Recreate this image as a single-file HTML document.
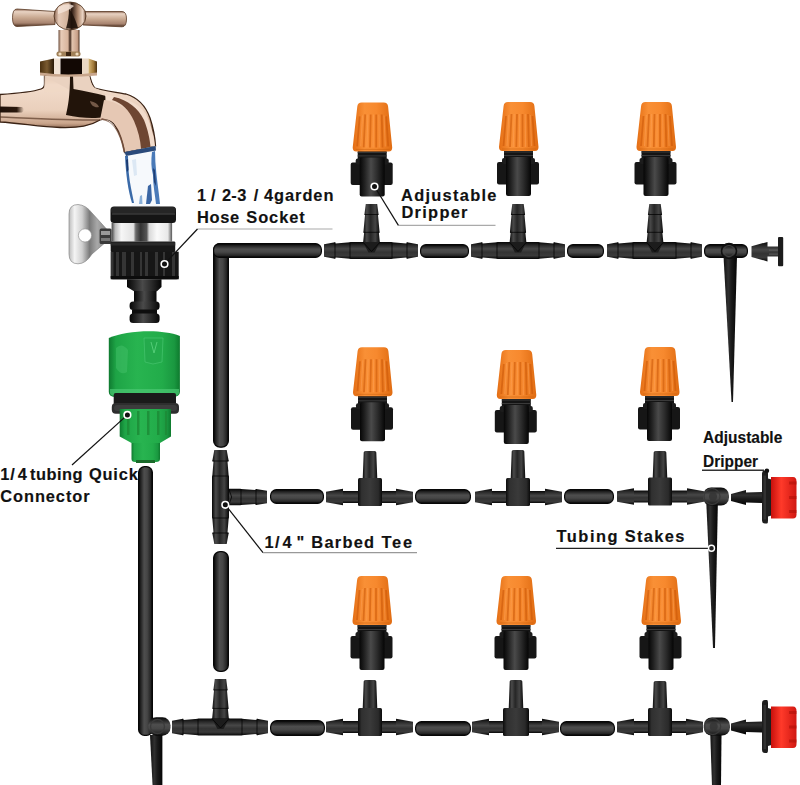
<!DOCTYPE html>
<html><head><meta charset="utf-8"><style>
html,body{margin:0;padding:0;background:#fff;}
body{width:800px;height:785px;overflow:hidden;font-family:"Liberation Sans",sans-serif;}
svg{display:block;}
</style></head><body>
<svg width="800" height="785" viewBox="0 0 800 785">
<defs>
<linearGradient id="tubeH" x1="0" y1="0" x2="0" y2="1">
  <stop offset="0" stop-color="#050505"/><stop offset="0.12" stop-color="#1c1c1c"/><stop offset="0.4" stop-color="#4e4e4e"/><stop offset="0.62" stop-color="#464646"/><stop offset="0.86" stop-color="#262626"/><stop offset="1" stop-color="#050505"/>
</linearGradient>
<linearGradient id="tubeV" x1="0" y1="0" x2="1" y2="0">
  <stop offset="0" stop-color="#050505"/><stop offset="0.12" stop-color="#1c1c1c"/><stop offset="0.4" stop-color="#4e4e4e"/><stop offset="0.62" stop-color="#464646"/><stop offset="0.86" stop-color="#262626"/><stop offset="1" stop-color="#050505"/>
</linearGradient>
<linearGradient id="tubeH2" x1="0" y1="0" x2="0" y2="1">
  <stop offset="0" stop-color="#111"/><stop offset="0.35" stop-color="#303030"/><stop offset="0.6" stop-color="#1a1a1a"/><stop offset="1" stop-color="#050505"/>
</linearGradient>
<linearGradient id="tubeV2" x1="0" y1="0" x2="1" y2="0">
  <stop offset="0" stop-color="#111"/><stop offset="0.35" stop-color="#303030"/><stop offset="0.6" stop-color="#1a1a1a"/><stop offset="1" stop-color="#050505"/>
</linearGradient>
<linearGradient id="tubeH3" x1="0" y1="0" x2="0" y2="1">
  <stop offset="0" stop-color="#060606"/><stop offset="0.2" stop-color="#2a2a2a"/><stop offset="0.4" stop-color="#474747"/><stop offset="0.6" stop-color="#333"/><stop offset="0.8" stop-color="#3a3a3a"/><stop offset="1" stop-color="#060606"/>
</linearGradient>
<linearGradient id="stemG2" x1="0" y1="0" x2="1" y2="0">
  <stop offset="0" stop-color="#060606"/><stop offset="0.22" stop-color="#4a4a4a"/><stop offset="0.45" stop-color="#262626"/><stop offset="0.72" stop-color="#444"/><stop offset="1" stop-color="#060606"/>
</linearGradient>
<linearGradient id="blockG" x1="0" y1="0" x2="1" y2="0">
  <stop offset="0" stop-color="#0c0c0c"/><stop offset="0.15" stop-color="#303030"/><stop offset="0.5" stop-color="#3a3a3a"/><stop offset="0.85" stop-color="#2a2a2a"/><stop offset="1" stop-color="#0a0a0a"/>
</linearGradient>
<linearGradient id="orangeG" x1="0" y1="0" x2="1" y2="0">
  <stop offset="0" stop-color="#e46e14"/><stop offset="0.3" stop-color="#f99036"/><stop offset="0.6" stop-color="#f7892e"/><stop offset="1" stop-color="#e06c12"/>
</linearGradient>
<linearGradient id="bodyG" x1="0" y1="0" x2="1" y2="0">
  <stop offset="0" stop-color="#060606"/><stop offset="0.2" stop-color="#222"/><stop offset="0.45" stop-color="#4a4a4a"/><stop offset="0.7" stop-color="#2c2c2c"/><stop offset="1" stop-color="#050505"/>
</linearGradient>
<linearGradient id="redG" x1="0" y1="0" x2="1" y2="0">
  <stop offset="0" stop-color="#c8100c"/><stop offset="0.4" stop-color="#ff3a2a"/><stop offset="1" stop-color="#d01812"/>
</linearGradient>
<linearGradient id="greenG" x1="0" y1="0" x2="1" y2="0">
  <stop offset="0" stop-color="#1f9a3a"/><stop offset="0.3" stop-color="#3ec85a"/><stop offset="0.7" stop-color="#2fb24c"/><stop offset="1" stop-color="#17802c"/>
</linearGradient>
<linearGradient id="copperH" x1="0" y1="0" x2="0" y2="1">
  <stop offset="0" stop-color="#7a5038"/><stop offset="0.2" stop-color="#e9cbb6"/><stop offset="0.45" stop-color="#c9a28a"/><stop offset="0.6" stop-color="#5a3a28"/><stop offset="0.8" stop-color="#d8b49c"/><stop offset="1" stop-color="#7a5440"/>
</linearGradient>
<linearGradient id="copperV" x1="0" y1="0" x2="1" y2="0">
  <stop offset="0" stop-color="#9a7058"/><stop offset="0.3" stop-color="#f0d6c2"/><stop offset="0.55" stop-color="#5a3a26"/><stop offset="0.8" stop-color="#e0bea6"/><stop offset="1" stop-color="#8a6048"/>
</linearGradient>
<linearGradient id="chromeG" x1="0" y1="0" x2="1" y2="0">
  <stop offset="0" stop-color="#555"/><stop offset="0.25" stop-color="#eee"/><stop offset="0.5" stop-color="#888"/><stop offset="0.75" stop-color="#f4f4f4"/><stop offset="1" stop-color="#666"/>
</linearGradient>
<linearGradient id="silverG" x1="0" y1="0" x2="1" y2="1">
  <stop offset="0" stop-color="#d8d8d8"/><stop offset="0.5" stop-color="#9a9a9a"/><stop offset="1" stop-color="#bdbdbd"/>
</linearGradient>
<g id="dripper">
  <rect x="5" y="46" width="29" height="11" fill="#141414"/>
  <line x1="5" y1="50" x2="34" y2="50" stroke="#3a3a3a" stroke-width="1"/>
  <line x1="5" y1="53.5" x2="34" y2="53.5" stroke="#3a3a3a" stroke-width="1"/>
  <rect x="-2" y="60" width="42" height="22.5" rx="2" fill="#161616"/>
  <rect x="3" y="56" width="33" height="6" rx="2" fill="#1c1c1c"/>
  <rect x="7" y="55" width="25" height="39" rx="2" fill="url(#bodyG)"/>
  <path d="M4.6,4 Q5,0 9,0 L31,0 Q35,0 35.4,4 L39.5,45 Q39.5,49 36,49 L3.5,49 Q0,49 0,45 Z" fill="url(#orangeG)"/>
  <path d="M7,14 L4.5,44 M12.5,12 L11,45 M18,12 L17.3,45 M23.5,12 L23.5,45 M29,12 L29.8,45 M33.5,14 L35.5,44" stroke="#c85406" stroke-width="1.8" opacity="0.55" fill="none"/>
  <path d="M9.8,13 L8,44 M15.2,12 L14.2,45 M20.7,12 L20.4,45 M26.2,12 L26.6,45 M31.3,13 L32.6,44" stroke="#ffa55a" stroke-width="1.1" opacity="0.45" fill="none"/>
  <path d="M3,47 L37,47" stroke="#c65e0c" stroke-width="1" opacity="0.5"/>
</g>
</defs>


<g id="faucet">
 <linearGradient id="armG" x1="0" y1="0" x2="0" y2="1">
  <stop offset="0" stop-color="#c49a80"/><stop offset="0.12" stop-color="#f2dccc"/><stop offset="0.45" stop-color="#ead0bc"/><stop offset="0.62" stop-color="#caa58c"/><stop offset="0.72" stop-color="#6a4a36"/><stop offset="0.8" stop-color="#d6b49c"/><stop offset="0.92" stop-color="#b88c72"/><stop offset="1" stop-color="#5a3a28"/>
 </linearGradient>
 <linearGradient id="barG" x1="0" y1="0" x2="0" y2="1">
  <stop offset="0" stop-color="#8a6450"/><stop offset="0.15" stop-color="#e8d2c2"/><stop offset="0.5" stop-color="#c8a890"/><stop offset="0.8" stop-color="#a88470"/><stop offset="1" stop-color="#4a3020"/>
 </linearGradient>
 <linearGradient id="stemG" x1="0" y1="0" x2="1" y2="0">
  <stop offset="0" stop-color="#6a4a38"/><stop offset="0.12" stop-color="#e8ccb8"/><stop offset="0.45" stop-color="#d8b49c"/><stop offset="0.55" stop-color="#3a2418"/><stop offset="0.65" stop-color="#e2c4ae"/><stop offset="0.9" stop-color="#c8a088"/><stop offset="1" stop-color="#4a3020"/>
 </linearGradient>
 <linearGradient id="nutG" x1="0" y1="0" x2="1" y2="0">
  <stop offset="0" stop-color="#5a3a1a"/><stop offset="0.1" stop-color="#a07848"/><stop offset="0.25" stop-color="#e8d0b8"/><stop offset="0.35" stop-color="#3a2210"/><stop offset="0.62" stop-color="#1a0e06"/><stop offset="0.72" stop-color="#e0c8b0"/><stop offset="0.85" stop-color="#c09868"/><stop offset="1" stop-color="#6a4820"/>
 </linearGradient>
 <linearGradient id="ballG" x1="0" y1="0" x2="1" y2="0">
  <stop offset="0" stop-color="#8a6450"/><stop offset="0.15" stop-color="#e6cbb8"/><stop offset="0.45" stop-color="#d0b098"/><stop offset="0.55" stop-color="#2a1810"/><stop offset="0.75" stop-color="#b08a70"/><stop offset="0.9" stop-color="#ecd6c6"/><stop offset="1" stop-color="#7a5440"/>
 </linearGradient>
 <path d="M0,94.5 C15,93.5 32,92 41,89 C44,88 44.5,86 44.5,84 L44.5,75.5 L89.5,75.5 C91,80 92,86 95,88 C100,90 115,92 126,94 C136,97 145,104 150,118 C153,127 155,138 155.5,146 L124.6,152.5 C123,143 120,133 114,124 C110,119 105,118 100,120 C90,126 80,128 60,127.5 C40,127 20,123 0,122 Z" fill="url(#armG)" stroke="#3a2214" stroke-width="1.3"/>
 <path d="M44.5,76 L70,76 L70,90 C60,92 50,93 44,92 Z" fill="#f0d8c6" opacity="0.8"/>
 <path d="M44.5,76 L89.5,76 C90.5,81 92,86 95,88 C100,90 104,92 106,95 L104,100 C95,97 85,95 75,93 Z" fill="#ead2c0"/>
 <path d="M70,76 L73,76 L73.5,89 C84,91 96,93 106,96 C104.5,103 104,110 104.5,117 C94,119 80,118 66,115 C68,106 70,96 70,76 Z" fill="#22140a"/>
 <path d="M90,101 C95,102 98,104 99,107 C95,108 91,106 90,101 Z" fill="#8a6a56" opacity="0.8"/>
 <linearGradient id="streakG" x1="0" y1="0" x2="1" y2="0"><stop offset="0" stop-color="#1e1008"/><stop offset="0.7" stop-color="#2a180c"/><stop offset="1" stop-color="#2a180c" stop-opacity="0"/></linearGradient>
 <path d="M0,106.5 L22,107 Q26,109.5 22,112.5 L0,112.5 Z" fill="url(#streakG)"/>
 <path d="M105,95 C122,96 138,102 146,114 C151,124 154,136 155,146 L146,147.5 C145,134 141,120 135,112 C128,103 118,100 106,100 Z" fill="#f2dccc"/>
 <path d="M104,100 C118,102 130,110 136,122 C140,131 142,140 143,148.5 L125,152 C124,143 121,133 116,126 C112,120 107,118 100,120 Z" fill="#e6c8b4"/>
 <path d="M114,97 C128,100 138,108 144,120 C148,130 150,140 150.5,147 L141,148.8 C140.5,140 138,130 134,121 C129,110 122,103 112,100 Z" fill="#6e4632"/>
 <path d="M102,118 C110,120 117,128 121,136 C123,142 124.5,147 125,152 L123.5,152.3 C122,143 119,134 114,127 C110,122 106,120 100,120 Z" fill="#7a5440" opacity="0.8"/>
 <path d="M124.6,152.3 L155.5,146 L155.5,149 L125,155 Z" fill="#5a3a24"/>
 <path d="M0,117 C25,118 60,120 100,120" stroke="#5a3a28" stroke-width="1.6" fill="none" opacity="0.7"/>
 <linearGradient id="nutL" x1="0" y1="0" x2="1" y2="0"><stop offset="0" stop-color="#4a3010"/><stop offset="0.5" stop-color="#7a5a30"/><stop offset="1" stop-color="#2a1a08"/></linearGradient>
 <linearGradient id="nutR" x1="0" y1="0" x2="1" y2="0"><stop offset="0" stop-color="#d8b878"/><stop offset="0.6" stop-color="#a07838"/><stop offset="1" stop-color="#4a3010"/></linearGradient>
 <path d="M40,61.5 L54,58.5 L54,75 L40,73 Z" fill="url(#nutL)"/>
 <rect x="54" y="58.5" width="6.5" height="16.5" fill="#f2e4d6"/>
 <rect x="60.5" y="58.5" width="21.5" height="16.5" fill="#120804"/>
 <rect x="82" y="58.5" width="6.5" height="16.5" fill="#ead8c4"/>
 <path d="M88.5,58.5 L97,61.5 L97,73.5 L88.5,75 Z" fill="url(#nutR)"/>
 <path d="M40,72.5 Q68,76.5 97,72.5 L97,75.5 Q68,78 40,75.5 Z" fill="#c8a68c"/>
 <rect x="58.5" y="30" width="21" height="22" fill="url(#stemG)"/>
 <rect x="56.5" y="51.5" width="24" height="5" rx="2" fill="#a08058"/>
 <circle cx="60" cy="54" r="1.6" fill="#f0dcc0"/><circle cx="77" cy="54" r="1.6" fill="#f0dcc0"/><rect x="66" y="52" width="5" height="4" fill="#3a2412"/>
 <path d="M17,9 L55,11.5 L55,24.5 L17,26.5 Q12.5,26.5 12.5,17.8 Q12.5,9 17,9 Z" fill="url(#barG)" stroke="#5a3a24" stroke-width="0.8"/>
 <path d="M83,11.5 L122,11.5 Q126.5,11.5 126.5,19 Q126.5,26.8 122,26.8 L83,25 Z" fill="url(#barG)" stroke="#5a3a24" stroke-width="0.8"/>
 <ellipse cx="70" cy="16" rx="16" ry="14" fill="url(#ballG)" stroke="#4a2e1a" stroke-width="0.8"/>
 <path d="M58,8 C62,4 70,3 74,6 C70,10 64,12 58,14 Z" fill="#f4e4d8" opacity="0.8"/>
 <path d="M69,9 C72,12 75,18 78,28 L66,28.5 C68,22 69,15 69,9 Z" fill="#1e120a" opacity="0.9"/>
 <path d="M124.6,152.5 L155.5,146 C156,160 158,185 160,207 L132,207 C128,190 126,172 124.6,152.5 Z" fill="#f6f9fc"/>
 <path d="M124.5,152 L155.5,146 L156,150.5 L126,156 Z" fill="#2a4a7a"/>
 <path d="M125,156 L128,156 C128,168 129,178 131,188 L134,203 L132,203 C128,190 126,175 125,156 Z" fill="#3a6aa8"/>
 <path d="M126,160 L128,159 L128.5,170 L127,172 Z" fill="#1a3a70"/>
 <path d="M152,152 L155,151 C155,165 157,180 159,195 L160,204 L156,204 C155,195 153,185 153,175 C151,168 151,160 152,152 Z" fill="#4a7ab8"/>
 <path d="M153,168 L155,170 L156,186 L154,182 Z" fill="#1e3e74"/>
 <path d="M148,186 L151,184 L152,200 L150,204 L146,204 Z" fill="#3a66a4"/>
 <path d="M140,196 L142,195 L142.5,204 L139,204 Z" fill="#8ab0d8"/>
 <path d="M132,160 L136,159 L137,175 L134,176 Z" fill="#dce8f4"/>
</g>


<g id="socket">
 <linearGradient id="wingG" x1="0" y1="0" x2="1" y2="0">
  <stop offset="0" stop-color="#bdbdbd"/><stop offset="0.15" stop-color="#f4f4f4"/><stop offset="0.35" stop-color="#d0d0d0"/><stop offset="0.55" stop-color="#7a7a7a"/><stop offset="0.75" stop-color="#a8a8a8"/><stop offset="1" stop-color="#8a8a8a"/>
 </linearGradient>
 <linearGradient id="chrome2" x1="0" y1="0" x2="1" y2="0">
  <stop offset="0" stop-color="#444"/><stop offset="0.06" stop-color="#bbb"/><stop offset="0.16" stop-color="#f6f6f6"/><stop offset="0.36" stop-color="#e2e2e2"/><stop offset="0.4" stop-color="#6a6a6a"/><stop offset="0.48" stop-color="#333"/><stop offset="0.58" stop-color="#555"/><stop offset="0.62" stop-color="#d8d8d8"/><stop offset="0.75" stop-color="#fafafa"/><stop offset="0.93" stop-color="#e8e8e8"/><stop offset="1" stop-color="#555"/>
 </linearGradient>
 <linearGradient id="ribG" x1="0" y1="0" x2="1" y2="0" spreadMethod="repeat">
  <stop offset="0" stop-color="#121212"/><stop offset="0.5" stop-color="#2e2e2e"/><stop offset="1" stop-color="#121212"/>
 </linearGradient>
 <path d="M69,214 Q69,204.5 78,204.5 Q86,205 92,213 L106.5,229 L106.5,241.5 L92,254 Q86,263.8 78,263.8 Q69,263.8 69,254 Z" fill="url(#wingG)" stroke="#777" stroke-width="0.6"/>
 <circle cx="85" cy="235.4" r="6.6" fill="#fff" stroke="#888" stroke-width="0.6"/>
 <rect x="99.6" y="228.5" width="12" height="15.5" rx="1.5" fill="#3a3a3a"/>
 <rect x="101" y="231" width="9" height="4" fill="#999"/>
 <rect x="101" y="238" width="9" height="3" fill="#777"/>
 <rect x="110.5" y="206.5" width="65.5" height="16.5" rx="3.5" fill="#151515"/>
 <rect x="111" y="207" width="64.5" height="6.5" rx="3" fill="#262626"/>
 <rect x="112" y="213.5" width="63" height="1" fill="#4a4a4a"/>
 <rect x="111.6" y="223" width="60.5" height="18.5" fill="url(#chrome2)"/>
 <rect x="110.7" y="241.4" width="64.5" height="10.5" rx="1" fill="#181818"/>
 <rect x="110.7" y="242.5" width="64.5" height="3" fill="#2a2a2a"/>
 <path d="M110.7,251.7 L178.7,251.7 L178.7,278 Q178.7,279.3 176,279.3 L113,279.3 Q110.7,279.3 110.7,278 Z" fill="#161616"/>
 <g fill="#353535">
  <rect x="111" y="252" width="2.5" height="26"/><rect x="116" y="252" width="3" height="26"/><rect x="122" y="252" width="4" height="26"/><rect x="131" y="252" width="3" height="26"/><rect x="140" y="252" width="2" height="26"/><rect x="145" y="252" width="3" height="26"/><rect x="155" y="252" width="3" height="26"/><rect x="163" y="252" width="2" height="26"/><rect x="172" y="252" width="3" height="26"/>
 </g>
 <rect x="110.7" y="276" width="68" height="3.3" fill="#0c0c0c"/>
 <path d="M127,279.3 L161.5,279.3 L161.5,287 L157,291.3 L134,291.3 L127,287 Z" fill="url(#bodyG)"/>
 <rect x="134" y="291" width="22.5" height="12" fill="url(#bodyG)"/>
 <rect x="129.6" y="301.6" width="30" height="8.5" rx="3.5" fill="url(#bodyG)"/>
 <rect x="132" y="309.5" width="25" height="5" fill="#0e0e0e"/>
 <rect x="129.6" y="313.5" width="30" height="9.5" rx="3.5" fill="url(#bodyG)"/>
</g>


<g id="green">
 <linearGradient id="green2" x1="0" y1="0" x2="1" y2="0">
  <stop offset="0" stop-color="#0f7a30"/><stop offset="0.1" stop-color="#1ea446"/><stop offset="0.4" stop-color="#28b450"/><stop offset="0.75" stop-color="#22ac4a"/><stop offset="0.92" stop-color="#1a9840"/><stop offset="1" stop-color="#0e7a2e"/>
 </linearGradient>
 <path d="M108.8,338 C125,331 160,328 179.9,336 L179.9,392 Q179.9,397 172,397 L116,397 Q108.8,397 108.8,392 Z" fill="url(#green2)"/>
 <path d="M110,389 L179,389 L179,393 Q179,396 172,396 L117,396 Q110,396 110,393 Z" fill="#4cc874" opacity="0.7"/>
 <path d="M116,348 Q122,342 128,350 L127,372 Q121,376 116,368 Z" fill="#46c46c" opacity="0.45"/>
 <path d="M144,338 L163,338 L162,362 L153,364 L145,362 Z" fill="#24aa4c" stroke="#46c46e" stroke-width="0.8" opacity="0.9"/>
 <path d="M151,342 L154,353 L157,342" stroke="#58d07c" stroke-width="0.9" fill="none"/>
 <rect x="113.7" y="393" width="62.3" height="12" rx="2" fill="#1a1a1a"/>
 <rect x="111.8" y="403" width="67.2" height="10.7" rx="4" fill="#2e2e2e"/>
 <rect x="114" y="405" width="63" height="6" rx="3" fill="#3c3c3c"/>
 <path d="M119.7,409 L171,409 L171,436.4 L160,443 L131.5,443 L119.7,436.4 Z" fill="url(#green2)"/>
 <g fill="#1d8a36" opacity="0.8">
  <rect x="127" y="411" width="2.5" height="24"/><rect x="137" y="411" width="2.5" height="24"/><rect x="147" y="411" width="2.5" height="24"/><rect x="157" y="411" width="2.5" height="24"/><rect x="165" y="411" width="2" height="24"/>
 </g>
 <path d="M131.5,443 L160,443 L160,459 Q160,462 156,462 L135,462 Q131.5,462 131.5,459 Z" fill="url(#green2)"/>
 <rect x="136" y="460" width="19" height="3" fill="#1a6a2a"/>
</g>

<rect x="138.6" y="466.6" width="13.8" height="268.8" rx="6.0" fill="url(#tubeV)" stroke="#070707" stroke-width="1.2"/>
<path d="M150,735 L162.4,735 L162.4,786 L152.6,786 Z" fill="url(#tubeV2)"/>
<rect x="148.3" y="717.3" width="22.2" height="18.4" rx="8" fill="url(#tubeH)"/>
<circle cx="157.5" cy="726.5" r="7" fill="none" stroke="#3a3a3a" stroke-width="1.3"/>
<rect x="213.6" y="243.6" width="14.8" height="203.60000000000002" rx="6.5" fill="url(#tubeV)" stroke="#070707" stroke-width="1.2"/>
<rect x="213.6" y="243.6" width="107.8" height="13.8" rx="6.0" fill="url(#tubeH)" stroke="#070707" stroke-width="1.2"/>
<rect x="213.6" y="551.6" width="14.8" height="119.8" rx="6.5" fill="url(#tubeV)" stroke="#070707" stroke-width="1.2"/>
<rect x="420.6" y="244.6" width="47.8" height="12.8" rx="5.5" fill="url(#tubeH)" stroke="#070707" stroke-width="1.2"/>
<rect x="567.6" y="244.6" width="35.8" height="12.8" rx="5.5" fill="url(#tubeH)" stroke="#070707" stroke-width="1.2"/>
<rect x="704.6" y="244.6" width="42.8" height="12.8" rx="5.5" fill="url(#tubeH)" stroke="#070707" stroke-width="1.2"/>
<rect x="270.6" y="489.6" width="52.8" height="13.8" rx="6.0" fill="url(#tubeH)" stroke="#070707" stroke-width="1.2"/>
<rect x="415.6" y="489.6" width="54.8" height="13.8" rx="6.0" fill="url(#tubeH)" stroke="#070707" stroke-width="1.2"/>
<rect x="564.6" y="489.6" width="48.8" height="13.8" rx="6.0" fill="url(#tubeH)" stroke="#070707" stroke-width="1.2"/>
<rect x="270.6" y="720.6" width="53.8" height="14.8" rx="6.5" fill="url(#tubeH)" stroke="#070707" stroke-width="1.2"/>
<rect x="415.6" y="721.6" width="54.8" height="13.8" rx="6.0" fill="url(#tubeH)" stroke="#070707" stroke-width="1.2"/>
<rect x="560.6" y="721.6" width="53.8" height="13.8" rx="6.0" fill="url(#tubeH)" stroke="#070707" stroke-width="1.2"/>
<path d="M365.8,204.0 L377.2,204.0 L378.6,214.5 L378.0,215.1 L379.6,232.3 L378.9,232.9 L380.1,244.5 L362.9,244.5 L364.1,232.9 L363.4,232.3 L365.0,215.1 L364.4,214.5 Z" fill="url(#stemG2)"/><line x1="364.5" y1="214.5" x2="378.5" y2="214.5" stroke="#000" stroke-width="0.9" opacity="0.8"/><line x1="363.5" y1="232.3" x2="379.5" y2="232.3" stroke="#000" stroke-width="0.9" opacity="0.8"/>
<path d="M324.0,244.3 L335.0,242.3 L335.5,243.5 L350.0,242.3 L350.5,242.0 L391.5,242.0 L392.0,242.3 L406.5,243.5 L407.0,242.3 L418.0,244.3 L418.0,256.7 L407.0,258.7 L406.5,257.5 L392.0,258.7 L391.5,259.0 L350.5,259.0 L350.0,258.7 L335.5,257.5 L335.0,258.7 L324.0,256.7 Z" fill="url(#tubeH3)"/><line x1="335" y1="242.3" x2="335" y2="258.7" stroke="#000" stroke-width="0.9" opacity="0.8"/><line x1="407" y1="242.3" x2="407" y2="258.7" stroke="#000" stroke-width="0.9" opacity="0.8"/><line x1="350" y1="242.3" x2="350" y2="258.7" stroke="#000" stroke-width="0.9" opacity="0.8"/><line x1="392" y1="242.3" x2="392" y2="258.7" stroke="#000" stroke-width="0.9" opacity="0.8"/>
<path d="M362.9,242.0 L380.1,242.0 L374.5,252.5 L368.5,252.5 Z" fill="#1c1c1c"/>
<path d="M362.9,242.0 L371.5,251.5 L380.1,242.0" fill="none" stroke="#000" stroke-width="0.9" opacity="0.8"/>
<path d="M512.3,204.0 L523.7,204.0 L525.1,214.5 L524.5,215.1 L526.1,232.3 L525.4,232.9 L526.6,244.5 L509.4,244.5 L510.6,232.9 L509.9,232.3 L511.5,215.1 L510.9,214.5 Z" fill="url(#stemG2)"/><line x1="511" y1="214.5" x2="525" y2="214.5" stroke="#000" stroke-width="0.9" opacity="0.8"/><line x1="510" y1="232.3" x2="526" y2="232.3" stroke="#000" stroke-width="0.9" opacity="0.8"/>
<path d="M471.0,244.3 L482.0,242.3 L482.5,243.5 L497.0,242.3 L497.5,242.0 L538.5,242.0 L539.0,242.3 L553.5,243.5 L554.0,242.3 L565.0,244.3 L565.0,256.7 L554.0,258.7 L553.5,257.5 L539.0,258.7 L538.5,259.0 L497.5,259.0 L497.0,258.7 L482.5,257.5 L482.0,258.7 L471.0,256.7 Z" fill="url(#tubeH3)"/><line x1="482" y1="242.3" x2="482" y2="258.7" stroke="#000" stroke-width="0.9" opacity="0.8"/><line x1="554" y1="242.3" x2="554" y2="258.7" stroke="#000" stroke-width="0.9" opacity="0.8"/><line x1="497" y1="242.3" x2="497" y2="258.7" stroke="#000" stroke-width="0.9" opacity="0.8"/><line x1="539" y1="242.3" x2="539" y2="258.7" stroke="#000" stroke-width="0.9" opacity="0.8"/>
<path d="M509.4,242.0 L526.6,242.0 L521,252.5 L515,252.5 Z" fill="#1c1c1c"/>
<path d="M509.4,242.0 L518,251.5 L526.6,242.0" fill="none" stroke="#000" stroke-width="0.9" opacity="0.8"/>
<path d="M649.3,204.0 L660.7,204.0 L662.1,214.5 L661.5,215.1 L663.1,232.3 L662.4,232.9 L663.6,244.5 L646.4,244.5 L647.6,232.9 L646.9,232.3 L648.5,215.1 L647.9,214.5 Z" fill="url(#stemG2)"/><line x1="648" y1="214.5" x2="662" y2="214.5" stroke="#000" stroke-width="0.9" opacity="0.8"/><line x1="647" y1="232.3" x2="663" y2="232.3" stroke="#000" stroke-width="0.9" opacity="0.8"/>
<path d="M607.0,244.3 L618.0,242.3 L618.5,243.5 L633.0,242.3 L633.5,242.0 L675.5,242.0 L676.0,242.3 L690.5,243.5 L691.0,242.3 L702.0,244.3 L702.0,256.7 L691.0,258.7 L690.5,257.5 L676.0,258.7 L675.5,259.0 L633.5,259.0 L633.0,258.7 L618.5,257.5 L618.0,258.7 L607.0,256.7 Z" fill="url(#tubeH3)"/><line x1="618" y1="242.3" x2="618" y2="258.7" stroke="#000" stroke-width="0.9" opacity="0.8"/><line x1="691" y1="242.3" x2="691" y2="258.7" stroke="#000" stroke-width="0.9" opacity="0.8"/><line x1="633" y1="242.3" x2="633" y2="258.7" stroke="#000" stroke-width="0.9" opacity="0.8"/><line x1="676" y1="242.3" x2="676" y2="258.7" stroke="#000" stroke-width="0.9" opacity="0.8"/>
<path d="M646.4,242.0 L663.6,242.0 L658,252.5 L652,252.5 Z" fill="#1c1c1c"/>
<path d="M646.4,242.0 L655,251.5 L663.6,242.0" fill="none" stroke="#000" stroke-width="0.9" opacity="0.8"/>
<rect x="342" y="491" width="55" height="12" fill="url(#tubeH3)"/>
<path d="M326,491.8 L343,488.8 L343,505.2 L326,502.2 Z" fill="url(#tubeH3)"/>
<path d="M413,491.8 L396,488.8 L396,505.2 L413,502.2 Z" fill="url(#tubeH3)"/>
<path d="M363.7,452.5 Q363.7,451 365.5,451 L374.5,451 Q376.3,451 376.3,452.5 L377.6,487 L362.4,487 Z" fill="url(#stemG2)"/>
<rect x="358" y="478" width="24" height="28" rx="1.5" fill="url(#blockG)"/>
<rect x="491" y="491" width="55" height="12" fill="url(#tubeH3)"/>
<path d="M475,491.8 L492,488.8 L492,505.2 L475,502.2 Z" fill="url(#tubeH3)"/>
<path d="M562,491.8 L545,488.8 L545,505.2 L562,502.2 Z" fill="url(#tubeH3)"/>
<path d="M511.7,451.5 Q511.7,450 513.5,450 L522.5,450 Q524.3,450 524.3,451.5 L525.6,487 L510.4,487 Z" fill="url(#stemG2)"/>
<rect x="506" y="478" width="24" height="28" rx="1.5" fill="url(#blockG)"/>
<rect x="633" y="490.5" width="55" height="12" fill="url(#tubeH3)"/>
<path d="M617,491.3 L634,488.3 L634,504.7 L617,501.7 Z" fill="url(#tubeH3)"/>
<path d="M704,491.3 L687,488.3 L687,504.7 L704,501.7 Z" fill="url(#tubeH3)"/>
<path d="M653.7,452.5 Q653.7,451 655.5,451 L664.5,451 Q666.3,451 666.3,452.5 L667.6,486.5 L652.4,486.5 Z" fill="url(#stemG2)"/>
<rect x="648" y="477.5" width="24" height="28" rx="1.5" fill="url(#blockG)"/>
<path d="M214.8,679.0 L226.2,679.0 L227.6,689.9 L227.0,690.5 L228.6,708.4 L227.9,709.0 L229.1,721.0 L211.9,721.0 L213.1,709.0 L212.4,708.4 L214.0,690.5 L213.4,689.9 Z" fill="url(#stemG2)"/><line x1="213.5" y1="689.9" x2="227.5" y2="689.9" stroke="#000" stroke-width="0.9" opacity="0.8"/><line x1="212.5" y1="708.4" x2="228.5" y2="708.4" stroke="#000" stroke-width="0.9" opacity="0.8"/>
<path d="M172.0,720.8 L183.0,718.8 L183.5,720.0 L198.0,718.8 L198.5,718.5 L241.5,718.5 L242.0,718.8 L256.5,720.0 L257.0,718.8 L268.0,720.8 L268.0,733.2 L257.0,735.2 L256.5,734.0 L242.0,735.2 L241.5,735.5 L198.5,735.5 L198.0,735.2 L183.5,734.0 L183.0,735.2 L172.0,733.2 Z" fill="url(#tubeH3)"/><line x1="183" y1="718.8" x2="183" y2="735.2" stroke="#000" stroke-width="0.9" opacity="0.8"/><line x1="257" y1="718.8" x2="257" y2="735.2" stroke="#000" stroke-width="0.9" opacity="0.8"/><line x1="198" y1="718.8" x2="198" y2="735.2" stroke="#000" stroke-width="0.9" opacity="0.8"/><line x1="242" y1="718.8" x2="242" y2="735.2" stroke="#000" stroke-width="0.9" opacity="0.8"/>
<path d="M211.9,718.5 L229.1,718.5 L223.5,729 L217.5,729 Z" fill="#1c1c1c"/>
<path d="M211.9,718.5 L220.5,728 L229.1,718.5" fill="none" stroke="#000" stroke-width="0.9" opacity="0.8"/>
<rect x="342" y="721" width="55" height="12" fill="url(#tubeH3)"/>
<path d="M326,721.8 L343,718.8 L343,735.2 L326,732.2 Z" fill="url(#tubeH3)"/>
<path d="M413,721.8 L396,718.8 L396,735.2 L413,732.2 Z" fill="url(#tubeH3)"/>
<path d="M363.7,681.5 Q363.7,680 365.5,680 L374.5,680 Q376.3,680 376.3,681.5 L377.6,717 L362.4,717 Z" fill="url(#stemG2)"/>
<rect x="358" y="708" width="24" height="28" rx="1.5" fill="url(#blockG)"/>
<rect x="488" y="721" width="55" height="12" fill="url(#tubeH3)"/>
<path d="M472,721.8 L489,718.8 L489,735.2 L472,732.2 Z" fill="url(#tubeH3)"/>
<path d="M559,721.8 L542,718.8 L542,735.2 L559,732.2 Z" fill="url(#tubeH3)"/>
<path d="M509.7,681.5 Q509.7,680 511.5,680 L520.5,680 Q522.3,680 522.3,681.5 L523.6,717 L508.4,717 Z" fill="url(#stemG2)"/>
<rect x="503" y="708" width="26" height="28" rx="1.5" fill="url(#blockG)"/>
<rect x="633" y="721" width="54" height="12" fill="url(#tubeH3)"/>
<path d="M617,721.8 L634,718.8 L634,735.2 L617,732.2 Z" fill="url(#tubeH3)"/>
<path d="M703,721.8 L686,718.8 L686,735.2 L703,732.2 Z" fill="url(#tubeH3)"/>
<path d="M653.7,682.5 Q653.7,681 655.5,681 L664.5,681 Q666.3,681 666.3,682.5 L667.6,717 L652.4,717 Z" fill="url(#stemG2)"/>
<rect x="648" y="708" width="24" height="28" rx="1.5" fill="url(#blockG)"/>
<path d="M220.5,488.8 L240.5,488.8 L241.0,489.0 L255.5,490.0 L256.0,489.0 L267.0,490.8 L267.0,503.2 L256.0,505.0 L255.5,504.0 L241.0,505.0 L240.5,505.2 L220.5,505.2 Z" fill="url(#tubeH3)"/>
<line x1="256" y1="489" x2="256" y2="505" stroke="#000" stroke-width="0.9" opacity="0.8"/>
<line x1="241" y1="489" x2="241" y2="505" stroke="#000" stroke-width="0.9" opacity="0.8"/>
<path d="M214.3,450.0 L212.3,461.0 L213.5,461.5 L212.3,476.0 L212.0,476.5 L212.0,517.5 L212.3,518.0 L213.5,532.5 L212.3,533.0 L214.3,544.0 L226.7,544.0 L228.7,533.0 L227.5,532.5 L228.7,518.0 L229.0,517.5 L229.0,476.5 L228.7,476.0 L227.5,461.5 L228.7,461.0 L226.7,450.0 Z" fill="url(#stemG2)"/>
<line x1="212.3" y1="461" x2="228.7" y2="461" stroke="#000" stroke-width="0.9" opacity="0.8"/>
<line x1="212.3" y1="533" x2="228.7" y2="533" stroke="#000" stroke-width="0.9" opacity="0.8"/>
<line x1="212.3" y1="476" x2="228.7" y2="476" stroke="#000" stroke-width="0.9" opacity="0.8"/>
<line x1="212.3" y1="518" x2="228.7" y2="518" stroke="#000" stroke-width="0.9" opacity="0.8"/>
<path d="M228.7,488.8 L231.7,497 L228.7,505.2" fill="none" stroke="#000" stroke-width="0.9" opacity="0.8"/>
<path d="M723.5,256 L737,256 L733,402 L731.5,402 Z" fill="url(#tubeV2)"/>
<circle cx="729" cy="251" r="7.5" fill="none" stroke="#101010" stroke-width="1.6"/>
<circle cx="729" cy="251" r="5.5" fill="none" stroke="#4a4a4a" stroke-width="0.9"/>
<path d="M706,496.5 L718,496.5 L715,648 L713,648 Z" fill="url(#tubeV2)"/>
<rect x="703" y="487.5" width="26" height="18" rx="8" fill="url(#tubeH)"/>
<circle cx="712" cy="496.5" r="8" fill="none" stroke="#3a3a3a" stroke-width="1.3"/>
<circle cx="713" cy="496.5" r="4" fill="#333" opacity="0.8"/>
<path d="M710,726.5 L721.6,726.5 L721,786 L712,786 Z" fill="url(#tubeV2)"/>
<rect x="703.7" y="717.5" width="26.299999999999955" height="18" rx="8" fill="url(#tubeH)"/>
<circle cx="712.7" cy="726.5" r="8" fill="none" stroke="#3a3a3a" stroke-width="1.3"/>
<circle cx="713.7" cy="726.5" r="4" fill="#333" opacity="0.8"/>
<path d="M751.5,246.3 L767.5,241.9 L767.5,246.5 L778,246.5 L778,256.5 L767.5,256.5 L767.5,261.4 L751.5,256.9 Z" fill="url(#tubeH3)"/>
<rect x="769" y="249.5" width="9" height="1.2" fill="#666" opacity="0.7"/><rect x="769" y="253.5" width="9" height="1.2" fill="#666" opacity="0.7"/>
<rect x="778" y="237" width="5.2" height="29.2" rx="1" fill="#1c1c1c"/>
<path d="M731,494.0 L746,490.0 L746,492.5 L762,492.0 L762,503.0 L746,502.5 L746,505.0 L731,501.0 Z" fill="url(#tubeH2)"/>
<path d="M762,473.5 Q762,470.5 765,470.5 L767,470.5 Q768,470.5 768,473.5 L768,478.5 L771.5,479.5 L771.5,515.5 L768,516.5 L768,520.5 Q768,523.5 767,523.5 L765,523.5 Q762,523.5 762,520.5 Z" fill="#1e1e1e"/>
<rect x="763.5" y="475.5" width="2.5" height="44" fill="#3a3a3a" opacity="0.7"/>
<path d="M771,477.0 L793,477.0 Q796.5,477.0 796.5,481.5 L796.5,514.5 Q796.5,518.5 793,518.5 L771,518.5 Z" fill="url(#redG)"/>
<rect x="789" y="481.5" width="7.5" height="3" fill="#b01008" opacity="0.6"/>
<rect x="789" y="496.0" width="7.5" height="3" fill="#b01008" opacity="0.6"/>
<rect x="789" y="510.0" width="7.5" height="3" fill="#b01008" opacity="0.6"/>
<path d="M731,723.5 L746,719.5 L746,722 L762,721.5 L762,732.5 L746,732 L746,734.5 L731,730.5 Z" fill="url(#tubeH2)"/>
<path d="M762,703 Q762,700 765,700 L767,700 Q768,700 768,703 L768,708 L771.5,709 L771.5,745 L768,746 L768,750 Q768,753 767,753 L765,753 Q762,753 762,750 Z" fill="#1e1e1e"/>
<rect x="763.5" y="705" width="2.5" height="44" fill="#3a3a3a" opacity="0.7"/>
<path d="M771,706.5 L793,706.5 Q796.5,706.5 796.5,711 L796.5,744 Q796.5,748 793,748 L771,748 Z" fill="url(#redG)"/>
<rect x="789" y="711" width="7.5" height="3" fill="#b01008" opacity="0.6"/>
<rect x="789" y="725.5" width="7.5" height="3" fill="#b01008" opacity="0.6"/>
<rect x="789" y="739.5" width="7.5" height="3" fill="#b01008" opacity="0.6"/>
<use href="#dripper" x="352.7" y="102.4"/>
<use href="#dripper" x="499" y="102"/>
<use href="#dripper" x="636.5" y="102"/>
<use href="#dripper" x="353" y="347.3"/>
<use href="#dripper" x="496.8" y="350"/>
<use href="#dripper" x="640" y="347"/>
<use href="#dripper" x="352.5" y="576"/>
<use href="#dripper" x="496.5" y="576"/>
<use href="#dripper" x="641.5" y="576"/>
<g font-family="Liberation Sans, sans-serif" font-weight="bold" fill="#111" stroke="#111" stroke-width="0.15"><text x="197.10" y="200.6" font-size="16.4">1</text>
<text x="211.00" y="200.6" font-size="16.4">/</text>
<text x="221.90" y="200.6" font-size="16.4" textLength="24.36" lengthAdjust="spacing">2-3</text>
<text x="253.75" y="200.6" font-size="16.4">/</text>
<text x="264.00" y="200.6" font-size="16.4" textLength="69.40" lengthAdjust="spacing">4garden</text>
<text x="197.10" y="222.75" font-size="16.4" textLength="42.01" lengthAdjust="spacing">Hose</text>
<text x="246.25" y="222.75" font-size="16.4" textLength="58.51" lengthAdjust="spacing">Socket</text>
<text x="401.00" y="200.9" font-size="16.4" textLength="95.40" lengthAdjust="spacing">Adjustable</text>
<text x="401.40" y="217.9" font-size="16.4" textLength="66.10" lengthAdjust="spacing">Dripper</text>
<text x="0.30" y="480.3" font-size="16.4">1</text>
<text x="10.30" y="480.3" font-size="16.4">/</text>
<text x="17.80" y="480.3" font-size="16.4">4</text>
<text x="30.00" y="480.3" font-size="16.4" textLength="52.50" lengthAdjust="spacing">tubing</text>
<text x="89.00" y="480.3" font-size="16.4" textLength="48.76" lengthAdjust="spacing">Quick</text>
<text x="0.30" y="501.5" font-size="16.4" textLength="89.30" lengthAdjust="spacing">Connector</text>
<text x="264.60" y="547.7" font-size="16.4">1</text>
<text x="275.00" y="547.7" font-size="16.4">/</text>
<text x="282.60" y="547.7" font-size="16.4">4</text>
<text x="296.40" y="547.7" font-size="16.4">"</text>
<text x="311.30" y="547.7" font-size="16.4" textLength="62.71" lengthAdjust="spacing">Barbed</text>
<text x="381.40" y="547.7" font-size="16.4" textLength="30.80" lengthAdjust="spacing">Tee</text>
<text x="556.40" y="542.2" font-size="16.4" textLength="61.20" lengthAdjust="spacing">Tubing</text>
<text x="624.80" y="542.2" font-size="16.4" textLength="59.49" lengthAdjust="spacing">Stakes</text>
<text x="703.10" y="442.8" font-size="16.2" textLength="79.20" lengthAdjust="spacingAndGlyphs">Adjustable</text>
<text x="703.10" y="466.6" font-size="16.2" textLength="54.90" lengthAdjust="spacingAndGlyphs">Dripper</text></g>

<g stroke-width="1.2" fill="none">
 <path d="M197.5,229 L332.5,229" stroke="#aaa"/>
 <path d="M164.5,264 L197.5,229" stroke="#111"/>
 <path d="M398.4,225.4 L495.5,225.4" stroke="#aaa"/>
 <path d="M374.5,186.5 L398.4,225.4" stroke="#111"/>
 <path d="M127.4,414.9 L72,465" stroke="#111"/>
 <path d="M225.3,504.8 L263,552.6" stroke="#111"/>
 <path d="M263,552.6 L417,552.6" stroke="#999"/>
 <path d="M556,548.3 L712,548.3" stroke="#222"/>
 <path d="M702,470.2 L764,470.2" stroke="#333" stroke-width="1.5"/>
</g>

<circle cx="164.5" cy="264" r="3.3" fill="#111" stroke="#fff" stroke-width="1.6"/>
<circle cx="374.5" cy="186.5" r="3.3" fill="#111" stroke="#fff" stroke-width="1.6"/>
<circle cx="127.4" cy="414.9" r="3.3" fill="#111" stroke="#fff" stroke-width="1.6"/>
<circle cx="225.3" cy="504.8" r="3.3" fill="#111" stroke="#fff" stroke-width="1.6"/>
<circle cx="711.5" cy="548.2" r="3" fill="#222" stroke="#fff" stroke-width="1.4"/>
<circle cx="766.9" cy="470.7" r="2.3" fill="#111"/></svg>
</body></html>
